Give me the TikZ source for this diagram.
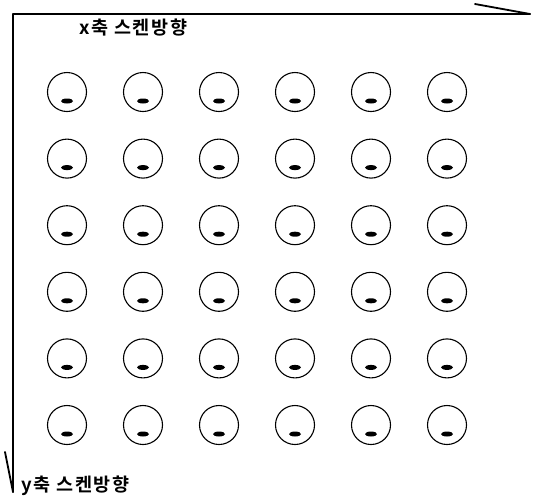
\documentclass[tikz,border=0pt]{standalone}
\usepackage{fontspec}
\newfontfamily\kr[LetterSpace=9]{Noto Sans CJK KR Bold}
\begin{document}
\begin{tikzpicture}[x=1pt, y=-1pt, line join=round, line cap=round]
			\useasboundingbox (0,0) rectangle (535,499);
			
			\coordinate (O) at (13,14);
			\coordinate (X) at (530,14);
			\coordinate (Y) at (13,492);
			\coordinate (XH) at (475,4);
			\coordinate (YH) at (5,452);
			
			\draw[line width=1.8pt] (X)--(O)--(Y);
			\draw[line width=1.8pt] (XH)--(X);
			\draw[line width=1.8pt] (YH)--(Y);
			
			\node[anchor=west, inner sep=0pt, font=\kr\fontsize{18.5}{18.5}\selectfont] (xlab) at (79,28) {x축 스켄방향};
			\node[anchor=west, inner sep=0pt, font=\kr\fontsize{18.5}{18.5}\selectfont] (ylab) at (21,486) {y축 스켄방향};
			
			\foreach \i in {0,...,5} {
				\foreach \j in {0,...,5} {
					\node[circle, draw, line width=1.1pt, minimum size=39pt, inner sep=0pt] (c\i\j) at (67+76*\i, 92+66.6*\j) {};
					\fill ([yshift=-9pt]c\i\j.center) ellipse (6pt and 2.5pt);
				}
			}
		\end{tikzpicture}
\end{document}
